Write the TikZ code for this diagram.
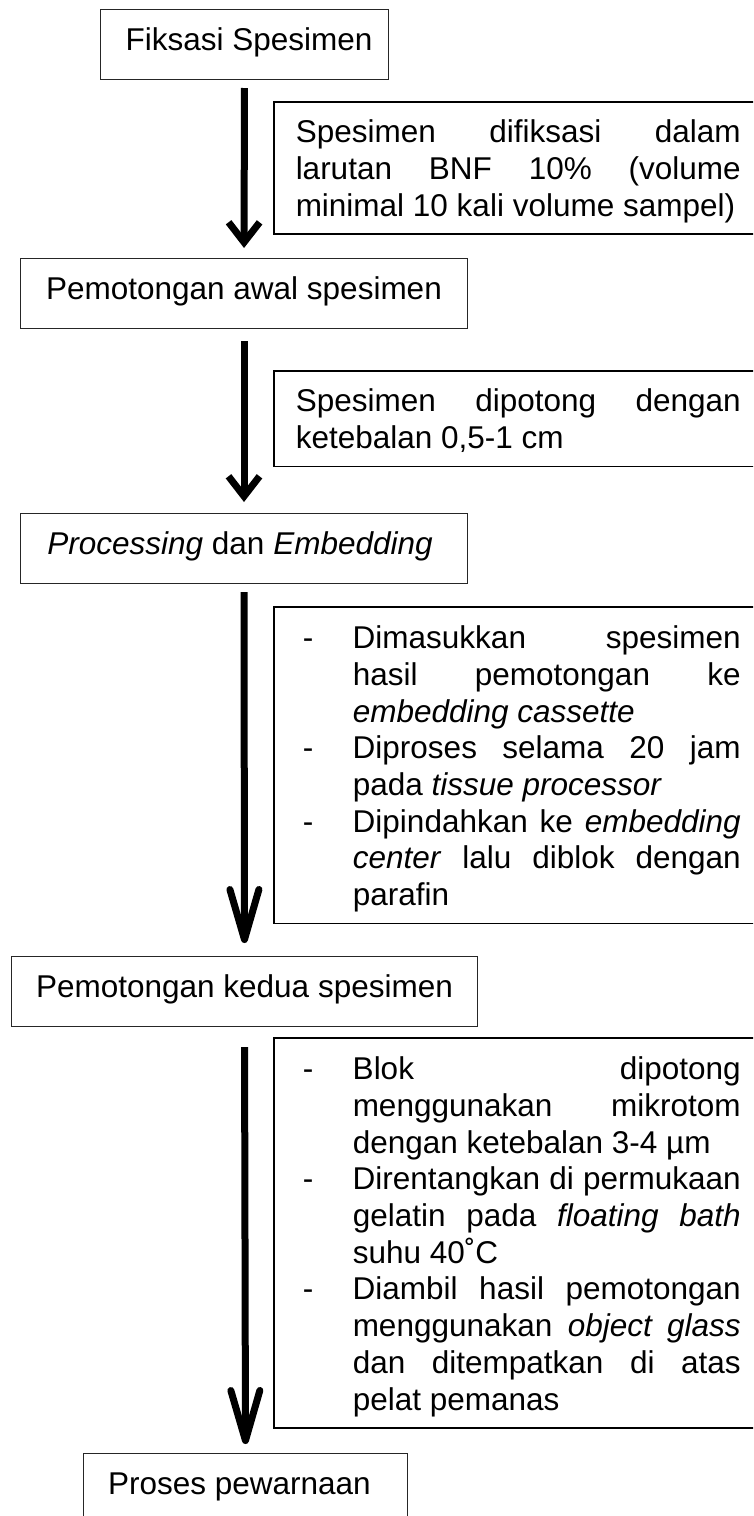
\documentclass[tikz,border=0pt]{standalone}
\usepackage{fontspec}
\setmainfont{Liberation Sans}
\usetikzlibrary{arrows.meta}
\newcommand{\isifont}{\fontsize{31.5}{36.7}\selectfont\parindent=0pt\tolerance=10000\hbadness=10000}
\newcommand{\butir}[1]{\par\hangindent=57pt\hangafter=1\noindent\makebox[57pt][l]{\hspace{7pt}-}#1\par}
\newcommand{\atas}{\rule{0pt}{41pt}}
\newcommand{\bawah}{\rule[-18pt]{0pt}{18pt}}

\begin{document}
\begin{tikzpicture}[x=1pt,y=-1pt,
	stepbox/.style={draw=black!85, line width=1pt, anchor=north west, inner sep=0pt, minimum height=70pt, text height=41pt, text depth=29pt, font=\isifont},
	notebox/.style={draw, line width=1.5pt, anchor=north west, inner xsep=22pt, inner ysep=0pt, text width=445pt, align=justify, font=\isifont},
	panah/.style={line width=7pt, -{Straight Barb[length=20pt,width=31pt]}},
	panahpanjang/.style={line width=7pt, -{Straight Barb[length=50pt,width=29pt,round]}}]
	\useasboundingbox (0,0) rectangle (753,1516);
	\clip (0,0) rectangle (753,1516);
	\node[stepbox, minimum width=288pt] (fiksasi) at (100,9) {\hspace*{9pt}Fiksasi Spesimen};
	\node[stepbox, minimum width=447pt] (awal) at (20,258) {Pemotongan awal spesimen};
	\node[stepbox, minimum width=447pt] (proses) at (20,513) {\textit{Processing} dan \textit{Embedding}\hspace*{8pt}};
	\node[stepbox, minimum width=466pt] (kedua) at (11,956) {Pemotongan kedua spesimen};
	\node[stepbox, minimum width=324pt] (warna) at (83,1453) {Proses pewarnaan\hspace*{12pt}};
	\node[notebox] (ket1) at (273,101) {\atas Spesimen difiksasi dalam\linebreak larutan BNF 10\% (volume\linebreak minimal 10 kali volume sampel)\bawah};
	\node[notebox] (ket2) at (273,370) {\atas Spesimen dipotong dengan\linebreak ketebalan 0,5-1 cm\bawah};
	\node[notebox] (ket3) at (273,606) {%
		\butir{\atas Dimasukkan spesimen\linebreak hasil pemotongan ke\linebreak \textit{embedding cassette}}%
		\butir{Diproses selama 20 jam\linebreak pada \textit{tissue processor}}%
		\butir{Dipindahkan ke \textit{embedding}\linebreak \textit{center} lalu diblok dengan\linebreak parafin\bawah}};
	\node[notebox] (ket4) at (273,1037) {%
		\butir{\atas Blok dipotong\linebreak menggunakan mikrotom\linebreak dengan ketebalan 3-4 µm}%
		\butir{Direntangkan di permukaan\linebreak gelatin pada \textit{floating bath}\linebreak suhu 40˚C}%
		\butir{Diambil hasil pemotongan\linebreak menggunakan \textit{object glass}\linebreak dan ditempatkan di atas\linebreak pelat pemanas\bawah}};
	\draw[panah, shorten <=8pt, shorten >=10pt] (fiksasi.south) -- (awal.north);
	\draw[panah, shorten <=12pt, shorten >=11pt] (awal.south) -- (proses.north);
	\draw[panahpanjang, shorten <=8pt, shorten >=13pt] (proses.south) -- (kedua.north);
	\draw[panahpanjang, shorten <=20pt, shorten >=9pt] (kedua.south) -- (warna.north);
\end{tikzpicture}
\end{document}
